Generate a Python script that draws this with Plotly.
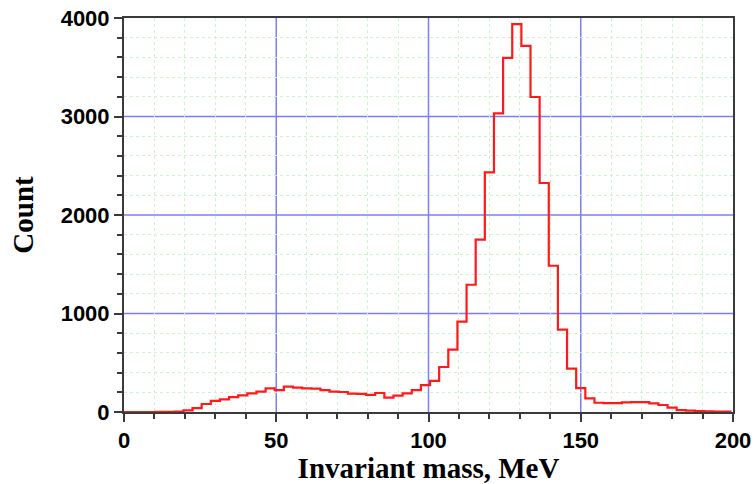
import plotly.graph_objects as go

# Histogram of invariant mass, 3 MeV bins (bin centres in MeV)
bin_centers = [0, 3, 6, 9, 12, 15, 18, 21, 24, 27, 30, 33, 36, 39, 42, 45, 48, 51,
               54, 57, 60, 63, 66, 69, 72, 75, 78, 81, 84, 87, 90, 93, 96, 99, 102,
               105, 108, 111, 114, 117, 120, 123, 126, 129, 132, 135, 138, 141, 144,
               147, 150, 153, 156, 159, 162, 165, 168, 171, 174, 177, 180, 183, 186,
               189, 192, 195, 198]
counts = [0, 0, 0, 0, 1, 2, 5, 16, 40, 81, 112, 128, 152, 169, 189, 206, 240, 223,
          257, 247, 240, 237, 223, 206, 203, 186, 183, 173, 193, 145, 166, 189, 223,
          272, 316, 457, 633, 917, 1292, 1749, 2433, 3032, 3595, 3937, 3718, 3198,
          2325, 1485, 836, 440, 243, 138, 94, 91, 91, 98, 101, 101, 88, 71, 44, 20,
          13, 10, 7, 4, 3]
bin_width = 3

x_tick_vals = [0, 50, 100, 150, 200]
y_tick_vals = [0, 1000, 2000, 3000, 4000]
x_minor_vals = [v for v in range(0, 201, 10) if v not in x_tick_vals]
y_minor_vals = [v for v in range(0, 4001, 200) if v not in y_tick_vals]

major_grid = "#7c7cff"

# step outline: left edges of every bin plus the final right edge
edges = [c - bin_width / 2 for c in bin_centers] + [bin_centers[-1] + bin_width / 2]
levels = counts + [counts[-1]]

fig = go.Figure()
fig.add_trace(go.Scatter(
    x=edges, y=levels, mode="lines",
    line=dict(color="#ff1a1a", width=2.2, shape="hv"),
    hoverinfo="skip", showlegend=False,
))

# major grid drawn above the dotted minor grid, beneath the histogram
for xv in x_tick_vals[1:-1]:
    fig.add_shape(type="line", xref="x", yref="paper", x0=xv, x1=xv, y0=0, y1=1,
                  line=dict(color=major_grid, width=1.5), layer="between")
for yv in y_tick_vals[1:-1]:
    fig.add_shape(type="line", xref="paper", yref="y", x0=0, x1=1, y0=yv, y1=yv,
                  line=dict(color=major_grid, width=1.5), layer="between")

tick_font = dict(family="Liberation Sans, Arial, sans-serif", size=22, color="black", weight="bold")
title_font = dict(family="Liberation Serif, Times New Roman, serif", size=29, color="black", weight="bold")

axis_common = dict(
    showline=True, linecolor="#3a3a3a", linewidth=2, mirror=True,
    ticks="outside", ticklen=8, tickwidth=1.5, tickcolor="#3a3a3a",
    showgrid=False, zeroline=False, tickfont=tick_font, automargin=False,
)
minor_common = dict(ticks="outside", ticklen=5, tickwidth=1.5, tickcolor="#3a3a3a",
                    showgrid=True, gridcolor="#cdf3cd", griddash="dot", gridwidth=1)

fig.update_xaxes(
    range=[0, 200], tickvals=x_tick_vals,
    title=dict(text="Invariant mass, MeV", font=title_font, standoff=6),
    minor=dict(tickvals=x_minor_vals, **minor_common),
    **axis_common,
)
fig.update_yaxes(
    range=[0, 4000], tickvals=y_tick_vals,
    title=dict(text="Count", font=title_font, standoff=18),
    minor=dict(tickvals=y_minor_vals, **minor_common),
    **axis_common,
)

fig.update_layout(
    width=755, height=484,
    margin=dict(l=124, r=22, t=18, b=72),
    plot_bgcolor="white", paper_bgcolor="white",
)

fig.write_html("out.html")
